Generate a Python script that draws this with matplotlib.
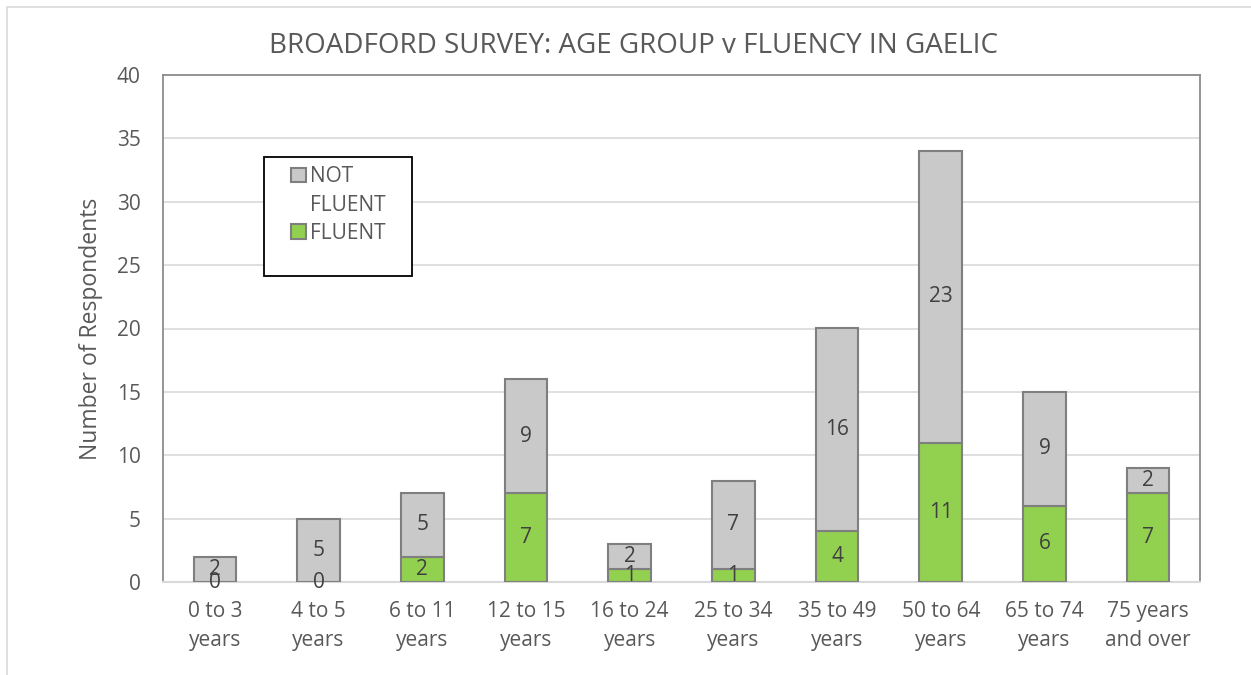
import numpy as np
import matplotlib.pyplot as plt
from matplotlib.patches import Rectangle, Patch

plt.rcParams['font.family'] = ['Open Sans', 'DejaVu Sans']

groups = ['0 to 3\nyears', '4 to 5\nyears', '6 to 11\nyears', '12 to 15\nyears',
          '16 to 24\nyears', '25 to 34\nyears', '35 to 49\nyears', '50 to 64\nyears',
          '65 to 74\nyears', '75 years\nand over']
fluent = [0, 0, 2, 7, 1, 1, 4, 11, 6, 7]
not_fluent = [2, 5, 5, 9, 2, 7, 16, 23, 9, 2]

txt = '#595959'
green = '#92d050'
grey = '#c9c9c9'
edge = '#7f7f7f'

fig = plt.figure(figsize=(12.51, 6.75), dpi=100)
fig.patches.append(Rectangle((7/1251, -0.1), 1.2, 1.1 - 7/675, transform=fig.transFigure,
                             fill=False, edgecolor='#d9d9d9', lw=1.2))
ax = fig.add_axes([163/1251, 1 - 582/675, 1037/1251, 507/675])

x = np.arange(len(groups))
b1 = ax.bar(x, fluent, width=0.41, color=green, edgecolor=edge, lw=1.5, zorder=3)
b2 = ax.bar(x, not_fluent, width=0.41, bottom=fluent, color=grey, edgecolor=edge, lw=1.5, zorder=3)
ax.bar_label(b1, label_type='center', fontsize=15, color='#404040', zorder=4)
ax.bar_label(b2, label_type='center', fontsize=15, color='#404040', zorder=4)

ax.set_xlim(-0.5, len(groups) - 0.5)
ax.set_ylim(0, 40)
ax.set_yticks(range(0, 41, 5))
ax.set_xticks(x)
ax.set_xticklabels(groups, linespacing=1.5)
ax.tick_params(length=0, labelsize=15, labelcolor=txt, pad=14)
ax.tick_params(axis='y', pad=16)
ax.yaxis.grid(True, color='#d9d9d9', lw=1.2, zorder=0)
for s in ['top', 'left', 'right']:
    ax.spines[s].set_color('#8c8c8c')
    ax.spines[s].set_linewidth(1.3)
ax.spines['bottom'].set_color('#d9d9d9')
ax.spines['bottom'].set_linewidth(1.5)

ax.set_ylabel('Number of Respondents', fontsize=16.5, color=txt, labelpad=10)
fig.text(0.506, 1 - 46/675, 'BROADFORD SURVEY: AGE GROUP v FLUENCY IN GAELIC',
         ha='center', va='center', fontsize=20, color=txt)

# legend box
ax.add_patch(Rectangle(((264-163)/1037, (582-276)/507), 148/1037, 119/507,
                       transform=ax.transAxes, fill=True, facecolor='white',
                       edgecolor='black', lw=1.3, zorder=5))
# "NOT FLUENT" wraps in the original, handle sits on the first line
handles = [Patch(facecolor=grey, edgecolor=edge, lw=1.5),
           Patch(facecolor='none', edgecolor='none'),
           Patch(facecolor=green, edgecolor=edge, lw=1.5)]
leg = ax.legend(handles, ['NOT', 'FLUENT', 'FLUENT'], loc='upper left',
                bbox_to_anchor=((280-163)/1037, (582-155)/507), frameon=False,
                fontsize=15, labelcolor=txt, handlelength=0.7, handleheight=0.7,
                handletextpad=0.2, labelspacing=0.35, borderaxespad=0.15)
leg.set_zorder(6)

fig.savefig('out.png', dpi=100)
